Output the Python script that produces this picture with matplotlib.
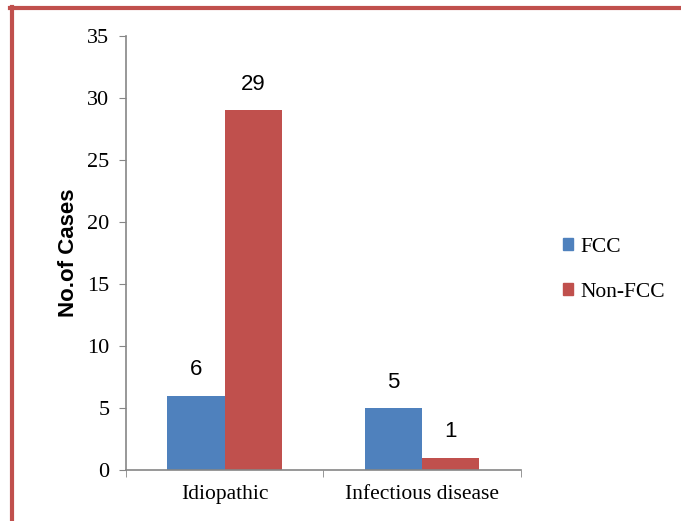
import matplotlib.pyplot as plt
import numpy as np
from matplotlib.lines import Line2D
from matplotlib.patches import Patch

categories = ['Idiopathic', 'Infectious disease']
fcc = [6, 5]
non_fcc = [29, 1]
series_names = ['FCC', 'Non-FCC']

blue = '#4F81BD'
red = '#C0504D'
axis_gray = '#868686'

fig = plt.figure(figsize=(6.81, 5.21), dpi=100)
ax = fig.add_axes([0.185, 0.098, 0.580, 0.833])

x = np.arange(len(categories))
w = 0.29
b1 = ax.bar(x - w / 2, fcc, width=w, color=blue, label=series_names[0])
b2 = ax.bar(x + w / 2, non_fcc, width=w, color=red, label=series_names[1])

# value labels above the bars
for bars in (b1, b2):
    for rect in bars:
        ax.annotate(str(int(rect.get_height())),
                    (rect.get_x() + rect.get_width() / 2, rect.get_height()),
                    xytext=(0, 11), textcoords='offset points',
                    ha='center', va='bottom', fontsize=16, family='Liberation Sans')

ax.set_xlim(-0.5, 1.5)
ax.set_ylim(0, 35)
ax.set_yticks(range(0, 36, 5))
ax.set_xticks(x)
ax.set_xticklabels(categories, family='Liberation Serif', fontsize=15.5)
ax.tick_params(axis='x', length=0, pad=11)
ax.set_xticks([-0.5, 0.5, 1.5], minor=True)
ax.tick_params(axis='x', which='minor', length=5, color=axis_gray, direction='out')
ax.tick_params(axis='y', length=5, color=axis_gray, direction='out', pad=7)
for lbl in ax.get_yticklabels():
    lbl.set_family('Liberation Serif')
    lbl.set_fontsize(16)

for s in ('top', 'right'):
    ax.spines[s].set_visible(False)
for s in ('left', 'bottom'):
    ax.spines[s].set_color(axis_gray)
    ax.spines[s].set_linewidth(1.2)

ax.set_ylabel('No.of Cases', fontsize=16, fontweight='bold', family='Liberation Sans', labelpad=6)

handles = [Patch(color=blue), Patch(color=red)]
fig.legend(handles, series_names, loc='center left', bbox_to_anchor=(0.826, 0.482),
           frameon=False, prop={'family': 'Liberation Serif', 'size': 15.5},
           borderpad=0, borderaxespad=0,
           handlelength=0.5, handleheight=0.5, handletextpad=0.35, labelspacing=1.2)

# red frame lines (top and left)
fig.add_artist(Line2D([0.017, 0.017], [0, 0.986], transform=fig.transFigure, color=red, lw=3))
fig.add_artist(Line2D([0.015, 1.0], [0.984, 0.984], transform=fig.transFigure, color=red, lw=3))

fig.savefig('out.png', dpi=100)
